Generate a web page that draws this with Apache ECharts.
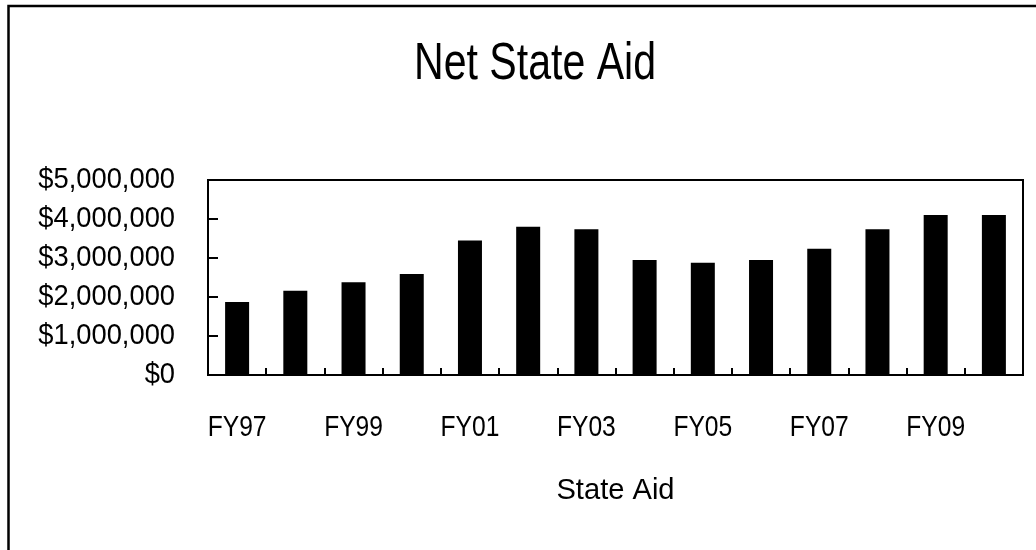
<!DOCTYPE html>
<html>
<head>
<meta charset="utf-8">
<script src="https://cdn.jsdelivr.net/npm/echarts@6/dist/echarts.min.js"></script>
<style>
  html, body { margin: 0; padding: 0; background: #fff; }
  #chart { width: 1036px; height: 550px; }
</style>
</head>
<body>
<div id="chart"></div>
<script>
// Fiscal years and net state aid received (dollars)
const fiscalYears = ['FY97', 'FY98', 'FY99', 'FY00', 'FY01', 'FY02', 'FY03',
                     'FY04', 'FY05', 'FY06', 'FY07', 'FY08', 'FY09', 'FY10'];
const netStateAid = [1870000, 2160000, 2380000, 2590000, 3450000, 3800000, 3740000,
                     2950000, 2880000, 2950000, 3240000, 3740000, 4100000, 4100000];
const yTicks = [0, 1000000, 2000000, 3000000, 4000000, 5000000];

const FONT = '"Liberation Sans", Arial, sans-serif';

const chart = echarts.init(document.getElementById('chart'), null, { renderer: 'canvas' });

function dollars(v) {
  return '$' + Math.round(v).toLocaleString('en-US');
}

chart.setOption({
  animation: false,
  backgroundColor: '#ffffff',
  title: {
    text: 'Net State Aid',
    left: 530,
    top: 34,
    textAlign: 'center',
    textStyle: { fontFamily: FONT, fontSize: 52, fontWeight: 'normal', color: '#000' }
  },
  graphic: [{
    // outer chart frame
    type: 'rect',
    shape: { x: 8.5, y: 6, width: 2000, height: 2000 },
    style: { fill: 'none', stroke: '#000', lineWidth: 2.5 },
    silent: true
  }],
  grid: {
    left: 208, top: 180, right: 13, bottom: 175,
    show: true, borderColor: '#000', borderWidth: 2, backgroundColor: 'transparent'
  },
  xAxis: {
    type: 'category',
    data: fiscalYears,
    boundaryGap: true,
    name: 'State Aid',
    nameLocation: 'middle',
    nameGap: 101,
    nameTextStyle: { fontFamily: FONT, fontSize: 30, color: '#000' },
    axisLine: { lineStyle: { color: '#000', width: 2 } },
    axisTick: { show: true, inside: true, length: 7, interval: 0, lineStyle: { color: '#000', width: 2 } },
    axisLabel: { interval: 1, margin: 38, fontFamily: FONT, fontSize: 30, color: '#000' }
  },
  yAxis: {
    type: 'value',
    min: yTicks[0],
    max: yTicks[yTicks.length - 1],
    interval: yTicks[1] - yTicks[0],
    axisLine: { show: true, lineStyle: { color: '#000', width: 2 } },
    axisTick: { show: true, inside: true, length: 10, lineStyle: { color: '#000', width: 2 } },
    splitLine: { show: false },
    axisLabel: { margin: 33, fontFamily: FONT, fontSize: 30, color: '#000', formatter: dollars }
  },
  series: [{
    type: 'bar',
    data: netStateAid,
    barWidth: 24,
    itemStyle: { color: '#000' }
  }]
});

// Condensed lettering: squeeze each text element horizontally about its own anchor
function condenseFactor(text) {
  if (text === 'Net State Aid') return 0.79;
  if (text === 'State Aid') return 0.97;
  if (text.charAt(0) === '$') return 0.91;
  if (text.indexOf('FY') === 0) return 0.82;
  return 1;
}
const zr = chart.getZr();
zr.storage.getRoots().forEach(function (root) {
  const visit = function (el) {
    if (el.type === 'text' && el.style && typeof el.style.text === 'string') {
      const s = condenseFactor(el.style.text);
      if (s !== 1) {
        el.scaleX = s;
        if (el.markRedraw) el.markRedraw();
      }
    }
  };
  visit(root);
  if (root.traverse) root.traverse(visit);
});
zr.refreshImmediately();
</script>
</body>
</html>
